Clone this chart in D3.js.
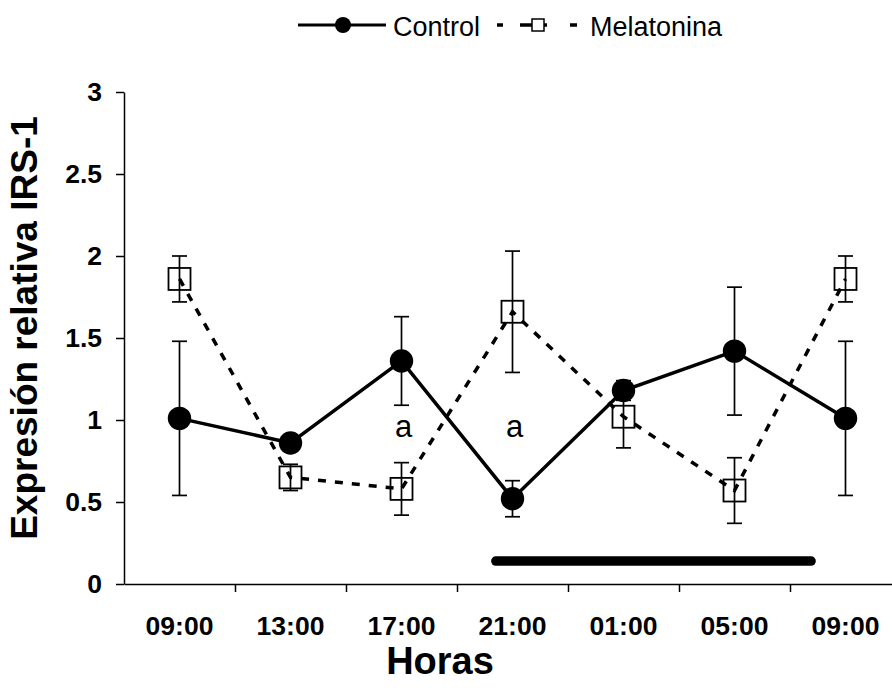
<!DOCTYPE html>
<html>
<head>
<meta charset="utf-8">
<script src="https://cdn.jsdelivr.net/npm/d3@7"></script>
<style>
  body { margin: 0; background: #fff; }
  svg { display: block; font-family: Arial, "Liberation Sans", sans-serif; }
</style>
</head>
<body>
<div id="chart"></div>
<script>
// data
const hours = ["09:00", "13:00", "17:00", "21:00", "01:00", "05:00", "09:00"];
const control = [1.01, 0.86, 1.36, 0.52, 1.18, 1.42, 1.01];
const controlErr = [0.47, 0.03, 0.27, 0.11, 0.06, 0.39, 0.47];
const melatonina = [1.86, 0.65, 0.58, 1.66, 1.02, 0.57, 1.86];
const melatoninaErr = [0.14, 0.08, 0.16, 0.37, 0.19, 0.20, 0.14];
const sigLabels = ["", "", "a", "a", "", "", ""];
const yTicks = [0, 0.5, 1, 1.5, 2, 2.5, 3];
const darkPeriod = [2.85, 5.69]; // in hour-slot units
const darkLevel = 0.14;

const width = 892, height = 692;
const margin = {top: 92, left: 124, bottom: 108, right: -9};

const svg = d3.select("#chart")
    .append("svg")
        .attr("width", width)
        .attr("height", height);

const x = d3.scaleBand()
    .domain(d3.range(hours.length))
    .range([margin.left, width - margin.right]);

const xi = d3.scaleLinear()
    .domain([-0.5, hours.length - 0.5])
    .range([margin.left, width - margin.right]);

const y = d3.scaleLinear()
    .domain([0, 3])
    .range([height - margin.bottom, margin.top]);

const cx = i => x(i) + x.bandwidth() / 2;

// dark period bar
svg.append("line")
    .attr("x1", xi(darkPeriod[0]))
    .attr("x2", xi(darkPeriod[1]))
    .attr("y1", y(darkLevel))
    .attr("y2", y(darkLevel))
    .attr("stroke", "black")
    .attr("stroke-width", 9.5)
    .attr("stroke-linecap", "round");

// x axis: labels
const xAxis = svg.append("g")
    .attr("transform", `translate(0,${y(0)})`)
    .call(d3.axisBottom(x).tickSize(0).tickSizeOuter(0).tickPadding(32).tickFormat(i => hours[i]));
xAxis.select(".domain").remove();
xAxis.selectAll("text")
    .attr("fill", "black")
    .style("font-size", "26.5px")
    .style("font-weight", "bold")
    .style("font-family", "Arial, 'Liberation Sans', sans-serif");

// x axis: line and boundary ticks
svg.append("g")
    .attr("transform", `translate(0,${y(0)})`)
    .call(d3.axisBottom(xi).tickValues(d3.range(0.5, hours.length - 1, 1)).tickSize(8).tickSizeOuter(0).tickFormat(""))
    .call(g => g.selectAll("line, path").attr("stroke", "black").attr("stroke-width", 1.5));

// y axis
svg.append("g")
    .attr("transform", `translate(${margin.left},0)`)
    .call(d3.axisLeft(y).tickValues(yTicks).tickSize(8).tickSizeOuter(0).tickPadding(14).tickFormat(d => String(d)))
    .call(g => g.selectAll("line, path").attr("stroke", "black").attr("stroke-width", 1.5))
    .selectAll("text")
        .attr("fill", "black")
        .style("font-size", "26.5px")
        .style("font-weight", "bold")
        .style("font-family", "Arial, 'Liberation Sans', sans-serif");

// axis titles
svg.append("text")
    .attr("x", 440)
    .attr("y", 674)
    .attr("text-anchor", "middle")
    .style("font-size", "38px")
    .style("font-weight", "bold")
    .text("Horas");

svg.append("text")
    .attr("transform", `translate(37,${(y(0) + y(3)) / 2 - 10}) rotate(-90)`)
    .attr("text-anchor", "middle")
    .style("font-size", "37px")
    .style("font-weight", "bold")
    .text("Expresión relativa IRS-1");

// control series
const controlLine = d3.line()
    .x((d, i) => cx(i))
    .y(d => y(d));

svg.append("path")
    .datum(control)
    .attr("d", controlLine)
    .attr("fill", "none")
    .attr("stroke", "black")
    .attr("stroke-width", 3.5);

svg.append("g").selectAll("circle")
    .data(control)
    .join("circle")
        .attr("cx", (d, i) => cx(i))
        .attr("cy", d => y(d))
        .attr("r", 11.7)
        .attr("fill", "black");

// melatonina series
const sq = 22;
svg.append("g").selectAll("rect")
    .data(melatonina)
    .join("rect")
        .attr("x", (d, i) => cx(i) - sq / 2)
        .attr("y", d => y(d) - sq / 2)
        .attr("width", sq)
        .attr("height", sq)
        .attr("fill", "white")
        .attr("stroke", "black")
        .attr("stroke-width", 1.8);

svg.append("path")
    .datum(melatonina)
    .attr("d", controlLine)
    .attr("fill", "none")
    .attr("stroke", "black")
    .attr("stroke-width", 3.5)
    .attr("stroke-dasharray", "8,9");

// error bars
function errorBars(values, errs) {
    const g = svg.append("g")
        .attr("stroke", "black")
        .attr("stroke-width", 1.7);
    values.forEach((v, i) => {
        const top = y(v + errs[i]), bot = y(v - errs[i]);
        g.append("line").attr("x1", cx(i)).attr("x2", cx(i)).attr("y1", top).attr("y2", bot);
        g.append("line").attr("x1", cx(i) - 7.5).attr("x2", cx(i) + 7.5).attr("y1", top).attr("y2", top);
        g.append("line").attr("x1", cx(i) - 7.5).attr("x2", cx(i) + 7.5).attr("y1", bot).attr("y2", bot);
    });
}
errorBars(control, controlErr);
errorBars(melatonina, melatoninaErr);

// significance letters
svg.append("g").selectAll("text")
    .data(sigLabels)
    .join("text")
        .attr("x", (d, i) => cx(i) + 2)
        .attr("y", y(0.895))
        .attr("text-anchor", "middle")
        .style("font-size", "31px")
        .text(d => d);

// legend
const legend = svg.append("g");
legend.append("line")
    .attr("x1", 298).attr("x2", 386).attr("y1", 25).attr("y2", 25)
    .attr("stroke", "black").attr("stroke-width", 3);
legend.append("circle")
    .attr("cx", 343).attr("cy", 25).attr("r", 8).attr("fill", "black");
legend.append("text")
    .attr("x", 393).attr("y", 36)
    .style("font-size", "27px")
    .text("Control");
legend.append("line")
    .attr("x1", 497).attr("x2", 577).attr("y1", 25).attr("y2", 25)
    .attr("stroke", "black").attr("stroke-width", 3.5)
    .attr("stroke-dasharray", "6,17,27,23,7");
legend.append("rect")
    .attr("x", 532).attr("y", 19).attr("width", 12).attr("height", 12)
    .attr("fill", "white").attr("stroke", "black").attr("stroke-width", 1.5);
legend.append("text")
    .attr("x", 590).attr("y", 36)
    .style("font-size", "27px")
    .text("Melatonina");
</script>
</body>
</html>
